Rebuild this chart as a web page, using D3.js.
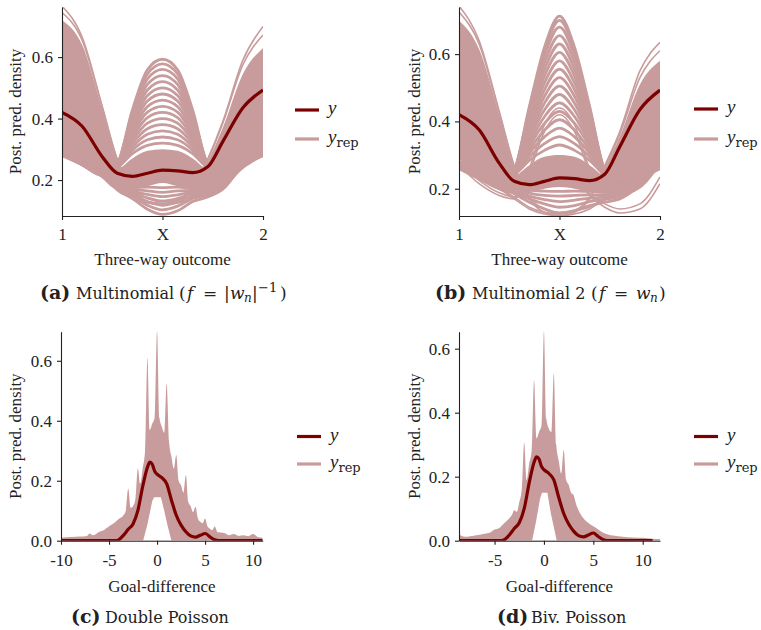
<!DOCTYPE html>
<html>
<head>
<meta charset="utf-8">
<title>Posterior predictive densities</title>
<script src="https://cdn.jsdelivr.net/npm/d3@7"></script>
<style>
    html, body {
        margin: 0;
        padding: 0;
        background: #fff;
    }
</style>
</head>
<body>
<svg id="fig" width="761" height="630"></svg>
<script>
// ---- data ----

// three-way outcome: 0 = "1", 1 = "X", 2 = "2"
const outcomeGrid = [0, 0.2, 0.4, 0.55, 0.7, 0.85, 1, 1.15, 1.3, 1.45, 1.6, 1.8, 2];
const outcomeTicks = [0, 1, 2];
const outcomeTickLabels = ["1", "X", "2"];
const obsOutcome = [0.42, 0.375, 0.276, 0.222, 0.212, 0.222, 0.232, 0.23, 0.224, 0.243, 0.325, 0.435, 0.493];

// (a) dense bundles of y_rep (high "1", centre, high "2") and the lower edge of the bundle
const repFillA = [
	[0.72, 0.64, 0.43, 0.262, 0.18, 0.15, 0.14, 0.14, 0.15, 0.18, 0.22, 0.27, 0.29],
	[0.30, 0.27, 0.23, 0.235, 0.27, 0.295, 0.30, 0.295, 0.27, 0.235, 0.23, 0.27, 0.30],
	[0.29, 0.27, 0.22, 0.18, 0.15, 0.14, 0.14, 0.15, 0.18, 0.26, 0.37, 0.545, 0.63]
];
const repFloorA = [0.29, 0.265, 0.205, 0.17, 0.17, 0.18, 0.19, 0.18, 0.17, 0.15, 0.17, 0.235, 0.275];
// (a) single y_rep draws: fringes at "1" and "2"
const repEdgeA = [
	[0.766, 0.665, 0.44, 0.268, 0.17, 0.13, 0.12, 0.125, 0.14, 0.17, 0.21, 0.26, 0.28],
	[0.745, 0.655, 0.436, 0.265, 0.175, 0.14, 0.13, 0.135, 0.145, 0.175, 0.215, 0.265, 0.285],
	[0.28, 0.26, 0.21, 0.17, 0.14, 0.125, 0.12, 0.13, 0.17, 0.268, 0.39, 0.59, 0.70],
	[0.285, 0.265, 0.215, 0.175, 0.145, 0.13, 0.125, 0.135, 0.175, 0.265, 0.385, 0.575, 0.672]
];
// (a) draws peaking at "X"
const repArcA = [
	[0.30, 0.26, 0.225, 0.24, 0.286, 0.313, 0.32, 0.313, 0.286, 0.24, 0.225, 0.26, 0.30],
	[0.30, 0.26, 0.225, 0.241, 0.297, 0.331, 0.34, 0.331, 0.297, 0.241, 0.225, 0.26, 0.30],
	[0.30, 0.26, 0.224, 0.242, 0.307, 0.349, 0.36, 0.349, 0.307, 0.242, 0.224, 0.26, 0.30],
	[0.30, 0.26, 0.224, 0.243, 0.318, 0.367, 0.38, 0.367, 0.318, 0.243, 0.224, 0.26, 0.30],
	[0.30, 0.26, 0.223, 0.244, 0.328, 0.385, 0.40, 0.385, 0.328, 0.244, 0.223, 0.26, 0.30],
	[0.30, 0.26, 0.223, 0.245, 0.338, 0.403, 0.42, 0.403, 0.338, 0.245, 0.223, 0.26, 0.30],
	[0.30, 0.26, 0.222, 0.246, 0.349, 0.421, 0.44, 0.421, 0.349, 0.246, 0.222, 0.26, 0.30],
	[0.29, 0.255, 0.222, 0.247, 0.359, 0.439, 0.46, 0.439, 0.359, 0.247, 0.222, 0.255, 0.29],
	[0.29, 0.255, 0.221, 0.248, 0.37, 0.457, 0.48, 0.457, 0.37, 0.248, 0.221, 0.255, 0.29],
	[0.29, 0.255, 0.22, 0.249, 0.38, 0.475, 0.50, 0.475, 0.38, 0.249, 0.22, 0.255, 0.29],
	[0.29, 0.255, 0.219, 0.25, 0.39, 0.493, 0.52, 0.493, 0.39, 0.25, 0.219, 0.255, 0.29],
	[0.285, 0.25, 0.218, 0.25, 0.401, 0.511, 0.54, 0.511, 0.401, 0.25, 0.218, 0.25, 0.285],
	[0.285, 0.25, 0.217, 0.251, 0.411, 0.529, 0.56, 0.529, 0.411, 0.251, 0.217, 0.25, 0.285],
	[0.28, 0.25, 0.216, 0.252, 0.421, 0.545, 0.578, 0.545, 0.421, 0.252, 0.216, 0.25, 0.28],
	[0.28, 0.25, 0.215, 0.252, 0.428, 0.559, 0.593, 0.559, 0.428, 0.252, 0.215, 0.25, 0.28]
];
// (a) draws lowest at "X"
const repLowA = [
	[0.34, 0.30, 0.225, 0.168, 0.14, 0.105, 0.088, 0.10, 0.13, 0.145, 0.17, 0.25, 0.30],
	[0.34, 0.30, 0.228, 0.172, 0.148, 0.118, 0.103, 0.115, 0.14, 0.152, 0.175, 0.255, 0.30],
	[0.33, 0.295, 0.23, 0.175, 0.155, 0.13, 0.118, 0.128, 0.148, 0.156, 0.18, 0.26, 0.30],
	[0.33, 0.29, 0.232, 0.178, 0.16, 0.142, 0.132, 0.14, 0.155, 0.16, 0.185, 0.26, 0.30],
	[0.32, 0.29, 0.234, 0.18, 0.165, 0.153, 0.146, 0.152, 0.16, 0.163, 0.19, 0.26, 0.30],
	[0.32, 0.285, 0.236, 0.182, 0.17, 0.165, 0.16, 0.165, 0.166, 0.166, 0.195, 0.26, 0.30],
	[0.31, 0.28, 0.238, 0.185, 0.175, 0.177, 0.175, 0.177, 0.172, 0.17, 0.2, 0.26, 0.29]
];

// (b)
const repFillB = [
	[0.70, 0.615, 0.42, 0.262, 0.18, 0.15, 0.14, 0.14, 0.15, 0.18, 0.22, 0.26, 0.28],
	[0.28, 0.25, 0.22, 0.235, 0.27, 0.295, 0.30, 0.295, 0.27, 0.235, 0.22, 0.25, 0.28],
	[0.28, 0.26, 0.22, 0.18, 0.15, 0.14, 0.14, 0.15, 0.18, 0.262, 0.355, 0.51, 0.58]
];
const repFloorB = [0.29, 0.23, 0.195, 0.185, 0.19, 0.2, 0.205, 0.2, 0.19, 0.185, 0.18, 0.2, 0.27];
const repEdgeB = [
	[0.743, 0.64, 0.43, 0.268, 0.17, 0.13, 0.12, 0.125, 0.14, 0.17, 0.2, 0.24, 0.26],
	[0.725, 0.63, 0.425, 0.265, 0.175, 0.14, 0.13, 0.135, 0.145, 0.175, 0.205, 0.245, 0.265],
	[0.26, 0.24, 0.2, 0.17, 0.14, 0.125, 0.12, 0.13, 0.17, 0.268, 0.37, 0.55, 0.635],
	[0.265, 0.245, 0.205, 0.175, 0.145, 0.13, 0.125, 0.135, 0.175, 0.265, 0.362, 0.53, 0.61],
	[0.27, 0.215, 0.18, 0.17, 0.26, 0.39, 0.44, 0.39, 0.26, 0.2, 0.22, 0.30, 0.34],
	[0.28, 0.225, 0.188, 0.176, 0.25, 0.37, 0.42, 0.37, 0.25, 0.2, 0.22, 0.30, 0.34],
	[0.42, 0.38, 0.30, 0.22, 0.2, 0.24, 0.28, 0.24, 0.18, 0.145, 0.128, 0.14, 0.215],
	[0.40, 0.36, 0.29, 0.215, 0.2, 0.24, 0.28, 0.24, 0.185, 0.155, 0.14, 0.155, 0.235]
];
const repArcB = [
	[0.28, 0.25, 0.215, 0.24, 0.284, 0.314, 0.33, 0.314, 0.284, 0.24, 0.215, 0.25, 0.28],
	[0.28, 0.25, 0.215, 0.241, 0.294, 0.334, 0.355, 0.334, 0.294, 0.241, 0.215, 0.25, 0.28],
	[0.28, 0.25, 0.215, 0.242, 0.305, 0.354, 0.38, 0.354, 0.305, 0.242, 0.215, 0.25, 0.28],
	[0.28, 0.25, 0.214, 0.243, 0.315, 0.374, 0.405, 0.374, 0.315, 0.243, 0.214, 0.25, 0.28],
	[0.28, 0.25, 0.214, 0.244, 0.326, 0.394, 0.43, 0.394, 0.326, 0.244, 0.214, 0.25, 0.28],
	[0.28, 0.25, 0.214, 0.245, 0.336, 0.414, 0.455, 0.414, 0.336, 0.245, 0.214, 0.25, 0.28],
	[0.28, 0.25, 0.213, 0.246, 0.347, 0.434, 0.48, 0.434, 0.347, 0.246, 0.213, 0.25, 0.28],
	[0.275, 0.245, 0.213, 0.247, 0.357, 0.454, 0.505, 0.454, 0.357, 0.247, 0.213, 0.245, 0.275],
	[0.275, 0.245, 0.212, 0.248, 0.368, 0.474, 0.53, 0.474, 0.368, 0.248, 0.212, 0.245, 0.275],
	[0.275, 0.245, 0.212, 0.249, 0.378, 0.494, 0.555, 0.494, 0.378, 0.249, 0.212, 0.245, 0.275],
	[0.27, 0.24, 0.211, 0.25, 0.389, 0.514, 0.58, 0.514, 0.389, 0.25, 0.211, 0.24, 0.27],
	[0.27, 0.24, 0.21, 0.25, 0.399, 0.534, 0.605, 0.534, 0.399, 0.25, 0.21, 0.24, 0.27],
	[0.27, 0.24, 0.21, 0.251, 0.41, 0.554, 0.63, 0.554, 0.41, 0.251, 0.21, 0.24, 0.27],
	[0.265, 0.235, 0.208, 0.252, 0.42, 0.574, 0.655, 0.574, 0.42, 0.252, 0.208, 0.235, 0.265],
	[0.265, 0.235, 0.207, 0.253, 0.431, 0.594, 0.68, 0.594, 0.431, 0.253, 0.207, 0.235, 0.265],
	[0.26, 0.235, 0.206, 0.253, 0.439, 0.61, 0.70, 0.61, 0.439, 0.253, 0.206, 0.235, 0.26],
	[0.26, 0.23, 0.205, 0.254, 0.444, 0.62, 0.713, 0.62, 0.444, 0.254, 0.205, 0.23, 0.26]
];
const repLowB = [
	[0.32, 0.27, 0.215, 0.185, 0.16, 0.14, 0.127, 0.135, 0.15, 0.16, 0.17, 0.21, 0.27],
	[0.32, 0.27, 0.218, 0.19, 0.17, 0.155, 0.145, 0.15, 0.162, 0.168, 0.178, 0.215, 0.275],
	[0.315, 0.265, 0.22, 0.195, 0.178, 0.168, 0.162, 0.166, 0.172, 0.175, 0.185, 0.22, 0.28],
	[0.31, 0.26, 0.222, 0.2, 0.187, 0.18, 0.178, 0.18, 0.182, 0.182, 0.19, 0.225, 0.285],
	[0.31, 0.26, 0.224, 0.205, 0.196, 0.193, 0.192, 0.193, 0.192, 0.19, 0.195, 0.23, 0.29]
];

// goal difference, observed
const goalObsX = [-10, -4.3, -4, -3.5, -3, -2.5, -2, -1.5, -1, -0.75, -0.5, -0.25, 0, 0.5, 1, 1.5, 2, 2.5, 3, 3.5, 4, 4.5, 5, 5.5, 6, 6.4, 11];
const goalObsY = [0, 0, 0.003, 0.018, 0.038, 0.056, 0.1, 0.18, 0.245, 0.262, 0.255, 0.232, 0.222, 0.21, 0.19, 0.135, 0.085, 0.052, 0.03, 0.016, 0.012, 0.018, 0.024, 0.013, 0.003, 0, 0];

// (c) upper edge of the y_rep band (spikes at whole goal differences) and the empty pocket under it
const repTopCX = [-10, -9, -8, -7.3, -7, -6.7, -6, -5.5, -5, -4.5, -4, -3.5, -3.25, -3, -2.75, -2.5, -2.25, -2, -1.75, -1.5, -1.25, -1, -0.75, -0.5, -0.25, 0, 0.25, 0.5, 0.75, 1, 1.25, 1.5, 1.75, 2, 2.25, 2.5, 2.75, 3, 3.25, 3.5, 3.75, 4, 4.25, 4.5, 4.75, 5, 5.25, 5.5, 5.75, 6, 6.3, 7, 7.5, 8, 8.5, 9, 9.5, 10, 10.5, 11];
const repTopCY = [0.01, 0.012, 0.014, 0.016, 0.024, 0.018, 0.03, 0.036, 0.048, 0.058, 0.072, 0.085, 0.1, 0.174, 0.11, 0.115, 0.14, 0.241, 0.19, 0.24, 0.3, 0.61, 0.37, 0.39, 0.41, 0.70, 0.41, 0.38, 0.36, 0.524, 0.33, 0.28, 0.24, 0.286, 0.2, 0.185, 0.16, 0.219, 0.13, 0.115, 0.095, 0.113, 0.075, 0.063, 0.058, 0.074, 0.048, 0.04, 0.035, 0.047, 0.028, 0.026, 0.018, 0.022, 0.016, 0.018, 0.015, 0.022, 0.012, 0.01];
const repHoleCX = [-1.45, -1, -0.5, -0.3, 0.4, 0.75, 1.1, 1.5];
const repHoleCY = [0, 0.055, 0.132, 0.145, 0.145, 0.1, 0.05, 0];

// (d)
const repTopDX = [-8.6, -8, -7, -6, -5.5, -5, -4.5, -4, -3.5, -3.25, -3, -2.75, -2.5, -2.25, -2, -1.75, -1.5, -1.25, -1, -0.75, -0.5, -0.25, 0, 0.25, 0.5, 0.75, 1, 1.25, 1.5, 1.75, 2, 2.25, 2.5, 2.75, 3, 3.25, 3.5, 4, 4.5, 5, 5.5, 6, 7, 8, 9, 10, 11, 11.75];
const repTopDY = [0.02, 0.012, 0.016, 0.022, 0.025, 0.035, 0.04, 0.055, 0.07, 0.08, 0.095, 0.09, 0.12, 0.16, 0.307, 0.19, 0.24, 0.28, 0.502, 0.32, 0.34, 0.36, 0.655, 0.38, 0.35, 0.34, 0.523, 0.3, 0.25, 0.21, 0.283, 0.19, 0.175, 0.15, 0.143, 0.115, 0.095, 0.07, 0.055, 0.045, 0.035, 0.025, 0.016, 0.012, 0.01, 0.009, 0.006, 0.005];
const repHoleDX = [-1.2, -0.8, -0.4, -0.2, 0.35, 0.7, 1.3];
const repHoleDY = [0, 0.06, 0.13, 0.15, 0.15, 0.085, 0];

// ---- drawing ----
const yrepColor = "#c89c9c";
const yColor = "#7c0000";
const inkColor = "#222";
const tickFont = "'Liberation Serif', 'Times New Roman', serif";
const capFont = "'DejaVu Serif', serif";

const svg = d3.select("#fig");

function axes(p, x, y) {
	const xAxis = svg.append("g")
			.attr("transform", `translate(0,${p.yRange[0]})`)
			.call(d3.axisBottom(x)
					.tickValues(p.xTicks)
					.tickFormat(p.xFormat)
					.tickSize(4)
					.tickPadding(p.xPad)
					.tickSizeOuter(0));
	const yAxis = svg.append("g")
			.attr("transform", `translate(${p.xRange[0]},0)`)
			.call(d3.axisLeft(y)
					.tickValues(p.yTicks)
					.tickFormat(d3.format(".1f"))
					.tickSize(4)
					.tickPadding(5)
					.tickSizeOuter(0));
	for (const a of [xAxis, yAxis]) {
		a.attr("font-family", tickFont).attr("font-size", 17);
		a.selectAll("path, line").attr("stroke", inkColor).attr("stroke-width", 1.1);
		a.selectAll("text").attr("fill", inkColor);
	}

	svg.append("text")
			.attr("x", (p.xRange[0] + p.xRange[1]) / 2)
			.attr("y", p.xTitleY)
			.attr("text-anchor", "middle")
			.attr("font-family", tickFont)
			.attr("font-size", 17)
			.attr("fill", inkColor)
			.text(p.xTitle);
	svg.append("text")
			.attr("transform", `translate(${p.yTitleX},${(p.yRange[0] + p.yRange[1]) / 2}) rotate(-90)`)
			.attr("text-anchor", "middle")
			.attr("font-family", tickFont)
			.attr("font-size", 17)
			.attr("fill", inkColor)
			.text("Post. pred. density");
}

function legend(p) {
	const lg = svg.append("g").attr("transform", `translate(${p.legend[0]},${p.legend[1]})`);
	lg.append("line").attr("x1", 0).attr("x2", 24).attr("y1", 0).attr("y2", 0)
			.attr("stroke", yColor).attr("stroke-width", 3.2);
	lg.append("line").attr("x1", 0).attr("x2", 24).attr("y1", p.legend[2]).attr("y2", p.legend[2])
			.attr("stroke", yrepColor).attr("stroke-width", 3.2);
	lg.append("text").attr("x", 33).attr("y", 4)
			.attr("font-family", tickFont).attr("font-style", "italic").attr("font-size", 19)
			.attr("fill", inkColor).text("y");
	const t = lg.append("text").attr("x", 33).attr("y", p.legend[2] + 4)
			.attr("font-family", tickFont).attr("font-size", 19).attr("fill", inkColor);
	t.append("tspan").attr("font-style", "italic").text("y");
	t.append("tspan").attr("font-family", capFont).attr("font-size", 13).attr("dy", 4).text("rep");
}

// caption pieces: [text, style, x]
function caption(p) {
	const base = p.captionY;
	const t = svg.append("text")
			.attr("y", base)
			.attr("font-family", capFont)
			.attr("font-size", 16)
			.attr("fill", inkColor);
	for (const [str, style, x] of p.captionParts) {
		const s = t.append("tspan").attr("x", x).attr("y", base).text(str);
		if (style === "b") s.attr("font-weight", "bold").attr("font-size", 19);
		if (style === "m") s.attr("font-size", 17);
		if (style === "i") s.attr("font-style", "italic").attr("font-size", 17);
		if (style === "sub") s.attr("font-style", "italic").attr("font-size", 12).attr("y", base + 3);
		if (style === "sup") s.attr("font-size", 13).attr("y", base - 7);
	}
}

function clip(p) {
	const id = "clip-" + p.id;
	svg.append("clipPath").attr("id", id).append("rect")
			.attr("x", p.xRange[0]).attr("y", p.yRange[1])
			.attr("width", p.xRange[1] - p.xRange[0])
			.attr("height", p.yRange[0] - p.yRange[1]);
	return svg.append("g").attr("clip-path", `url(#${id})`);
}

function outcomePanel(p) {
	const x = d3.scaleLinear([0, 2], p.xRange);
	const y = d3.scaleLinear(p.yDomain, p.yRange);
	const plot = clip(p);
	const bottom = p.yRange[0];

	const under = d3.area()
			.x((d, i) => x(outcomeGrid[i]))
			.y0(bottom)
			.y1(d => y(d))
			.curve(d3.curveMonotoneX);
	const line = d3.line()
			.x((d, i) => x(outcomeGrid[i]))
			.y(d => y(d))
			.curve(d3.curveMonotoneX);

	plot.selectAll("path.fill").data(p.fills).join("path")
			.attr("class", "fill").attr("d", under).attr("fill", yrepColor);
	plot.append("path").attr("d", under(p.floor)).attr("fill", "#fff");
	plot.selectAll("path.edge").data(p.edge).join("path")
			.attr("class", "edge").attr("d", line)
			.attr("fill", "none").attr("stroke", yrepColor).attr("stroke-width", 1.6);
	plot.selectAll("path.arc").data(p.arcs.concat(p.low)).join("path")
			.attr("class", "arc").attr("d", line)
			.attr("fill", "none").attr("stroke", yrepColor).attr("stroke-width", 2.8);
	plot.append("path").attr("d", line(obsOutcome))
			.attr("fill", "none").attr("stroke", yColor).attr("stroke-width", 3.2);

	axes(p, x, y);
	legend(p);
	caption(p);
}

function goalPanel(p) {
	const x = d3.scaleLinear(p.xDomain, p.xRange);
	const y = d3.scaleLinear(p.yDomain, p.yRange);
	const plot = clip(p);
	const bottom = p.yRange[0];

	const under = (xs, curve) => d3.area()
			.x((d, i) => x(xs[i]))
			.y0(bottom)
			.y1(d => y(d))
			.curve(curve);
	const line = (xs) => d3.line()
			.x((d, i) => x(xs[i]))
			.y(d => y(d))
			.curve(d3.curveMonotoneX);

	plot.append("path").attr("d", under(p.topX, d3.curveMonotoneX)(p.topY)).attr("fill", yrepColor);
	plot.append("path").attr("d", under(p.holeX, d3.curveLinear)(p.holeY)).attr("fill", "#fff");
	plot.append("path").attr("d", line(goalObsX)(goalObsY))
			.attr("fill", "none").attr("stroke", yColor).attr("stroke-width", 3.2);

	axes(p, x, y);
	legend(p);
	caption(p);
}

const plain = d => String(d);

outcomePanel({
	id: "a",
	xRange: [62, 263], yRange: [216, 7], yDomain: [0.083, 0.763],
	xTicks: outcomeTicks, xFormat: i => outcomeTickLabels[i], xPad: 8,
	yTicks: [0.2, 0.4, 0.6],
	fills: repFillA, floor: repFloorA, edge: repEdgeA, arcs: repArcA, low: repLowA,
	xTitle: "Three-way outcome", xTitleY: 265, yTitleX: 21,
	legend: [295, 110, 29],
	captionY: 299,
	captionParts: [["(a)", "b", 40], ["Multinomial", "", 76], ["(", "m", 179], ["f", "i", 187], ["=", "m", 203],
		["|", "m", 224], ["w", "i", 230], ["n", "sub", 244], ["|", "m", 252], ["\u22121", "sup", 258], [")", "m", 280]]
});

outcomePanel({
	id: "b",
	xRange: [459, 660], yRange: [216, 7], yDomain: [0.119, 0.74],
	xTicks: outcomeTicks, xFormat: i => outcomeTickLabels[i], xPad: 8,
	yTicks: [0.2, 0.4, 0.6],
	fills: repFillB, floor: repFloorB, edge: repEdgeB, arcs: repArcB, low: repLowB,
	xTitle: "Three-way outcome", xTitleY: 265, yTitleX: 420,
	legend: [694, 109, 30],
	captionY: 299,
	captionParts: [["(b)", "b", 435], ["Multinomial 2", "", 472], ["(", "m", 591], ["f", "i", 599], ["=", "m", 614],
		["w", "i", 636], ["n", "sub", 650], [")", "m", 659]]
});

goalPanel({
	id: "c",
	xRange: [61, 262.7], yRange: [540.7, 331.7], xDomain: [-10, 11], yDomain: [0, 0.697],
	xTicks: [-10, -5, 0, 5, 10], xFormat: plain, xPad: 9,
	yTicks: [0, 0.2, 0.4, 0.6],
	topX: repTopCX, topY: repTopCY, holeX: repHoleCX, holeY: repHoleCY,
	xTitle: "Goal-difference", xTitleY: 591.7, yTitleX: 21,
	legend: [297, 436.5, 27.5],
	captionY: 623.3,
	captionParts: [["(c)", "b", 71], ["Double Poisson", "", 105]]
});

goalPanel({
	id: "d",
	xRange: [459, 660], yRange: [540.7, 331.7], xDomain: [-8.6, 11.75], yDomain: [0, 0.653],
	xTicks: [-5, 0, 5, 10], xFormat: plain, xPad: 9,
	yTicks: [0, 0.2, 0.4, 0.6],
	topX: repTopDX, topY: repTopDY, holeX: repHoleDX, holeY: repHoleDY,
	xTitle: "Goal-difference", xTitleY: 591.7, yTitleX: 420,
	legend: [694, 436.5, 27.5],
	captionY: 623.3,
	captionParts: [["(d)", "b", 497], ["Biv. Poisson", "", 531]]
});
</script>
</body>
</html>
